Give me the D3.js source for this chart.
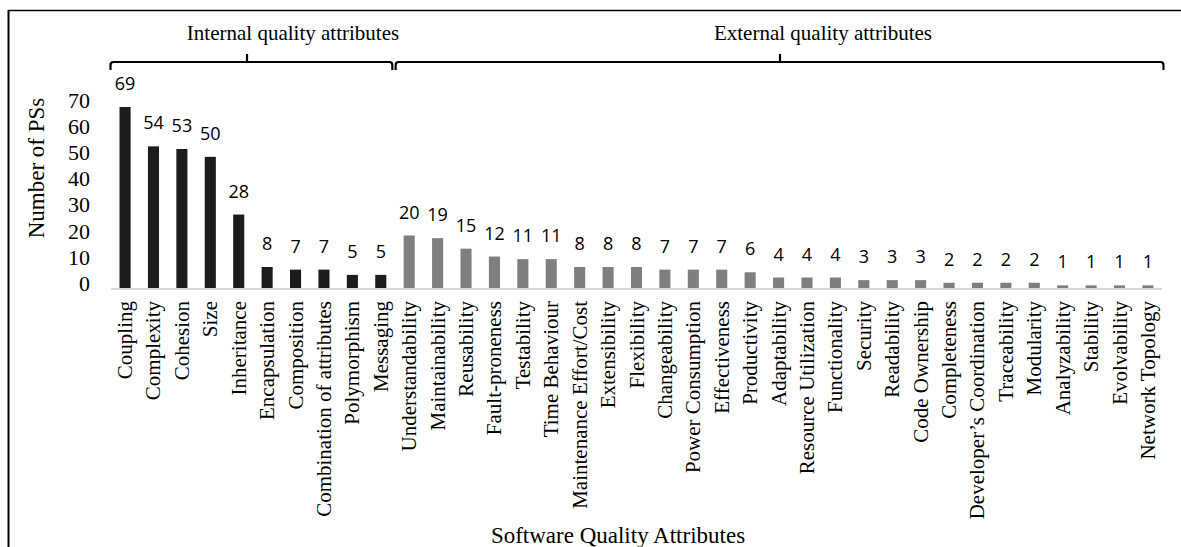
<!DOCTYPE html>
<html>
<head>
<meta charset="utf-8">
<script src="https://cdn.jsdelivr.net/npm/d3@7"></script>
<style>
  body { margin: 0; background: #fff; }
  svg { display: block; }
  .serif { font-family: "Liberation Serif", "Times New Roman", serif; fill: #000; }
  .val { font-family: "Open Sans", "Liberation Sans", sans-serif; font-size: 18px; fill: #000; }
</style>
</head>
<body>
<svg id="chart" width="1181" height="547"></svg>
<script>
const internalCats = ["Coupling", "Complexity", "Cohesion", "Size", "Inheritance", "Encapsulation",
  "Composition", "Combination of attributes", "Polymorphism", "Messaging"];
const internalVals = [69, 54, 53, 50, 28, 8, 7, 7, 5, 5];

const externalCats = ["Understandability", "Maintainability", "Reusability", "Fault-proneness",
  "Testability", "Time Behaviour", "Maintenance Effort/Cost", "Extensibility", "Flexibility",
  "Changeability", "Power Consumption", "Effectiveness", "Productivity", "Adaptability",
  "Resource  Utilization", "Functionality", "Security", "Readability", "Code Ownership",
  "Completeness", "Developer\u2019s Coordination", "Traceability", "Modularity", "Analyzability",
  "Stability", "Evolvability", "Network Topology"];
const externalVals = [20, 19, 15, 12, 11, 11, 8, 8, 8, 7, 7, 7, 6, 4, 4, 4, 3, 3, 3, 2, 2, 2, 2, 1, 1, 1, 1];

const yTicks = [0, 10, 20, 30, 40, 50, 60, 70];

const rows = internalCats.map((c, i) => ({ cat: c, v: internalVals[i], group: "internal" }))
  .concat(externalCats.map((c, i) => ({ cat: c, v: externalVals[i], group: "external" })));

const svg = d3.select("#chart");

// frame (only left and top edges visible)
svg.append("line").attr("x1", 8.5).attr("x2", 8.5).attr("y1", 10).attr("y2", 547)
  .attr("stroke", "#000").attr("stroke-width", 2);
svg.append("line").attr("x1", 8).attr("x2", 1181).attr("y1", 10.5).attr("y2", 10.5)
  .attr("stroke", "#000").attr("stroke-width", 1.5);

const x = d3.scaleBand().domain(rows.map(d => d.cat)).range([111, 1162]).paddingInner(0.61).paddingOuter(0.3);
const y = d3.scaleLinear().domain([0, 70]).range([288, 104.4]);

// baseline
svg.append("line").attr("x1", 111).attr("x2", 1162).attr("y1", y(0) + 1).attr("y2", y(0) + 1)
  .attr("stroke", "#d9d9d9").attr("stroke-width", 2);

// bars
svg.append("g").selectAll("rect").data(rows).join("rect")
  .attr("x", d => x(d.cat))
  .attr("width", x.bandwidth())
  .attr("y", d => y(d.v))
  .attr("height", d => y(0) - y(d.v))
  .attr("fill", d => d.group === "internal" ? "#1c1c1c" : "#7f7f7f");

// value labels
svg.append("g").selectAll("text").data(rows).join("text")
  .attr("class", "val")
  .attr("x", d => x(d.cat) + x.bandwidth() / 2)
  .attr("y", d => y(d.v) - 17)
  .attr("text-anchor", "middle")
  .text(d => d.v);

// y axis tick labels (no axis line)
const yAxis = svg.append("g").attr("transform", "translate(90,0)")
  .call(d3.axisLeft(y).tickValues(yTicks).tickSize(0).tickPadding(0));
yAxis.select(".domain").remove();
yAxis.selectAll("text")
  .attr("class", "serif")
  .attr("font-size", 22)
  .attr("dy", "0.3em")
  .attr("transform", "translate(0,-4)");

// category labels
svg.append("g").selectAll("text").data(rows).join("text")
  .attr("class", "serif")
  .attr("font-size", 21)
  .attr("text-anchor", "end")
  .attr("transform", d => `translate(${x(d.cat) + x.bandwidth() / 2 + 7},301) rotate(-90)`)
  .text(d => d.cat);

// axis titles
svg.append("text").attr("class", "serif").attr("font-size", 23)
  .attr("text-anchor", "middle")
  .attr("transform", "translate(44,168) rotate(-90)")
  .text("Number of PSs");

svg.append("text").attr("class", "serif").attr("font-size", 23)
  .attr("x", 618).attr("y", 543).attr("text-anchor", "middle")
  .text("Software Quality Attributes");

// group braces
function brace(x0, x1, xm, label, lx) {
  const top = 62, hook = 8, r = 3;
  const p = d3.path();
  p.moveTo(x0, top + hook);
  p.lineTo(x0, top + r);
  p.quadraticCurveTo(x0, top, x0 + r, top);
  p.lineTo(x1 - r, top);
  p.quadraticCurveTo(x1, top, x1, top + r);
  p.lineTo(x1, top + hook);
  p.moveTo(xm, top);
  p.lineTo(xm, top - 8);
  svg.append("path").attr("d", p.toString()).attr("fill", "none")
    .attr("stroke", "#000").attr("stroke-width", 2.2);
  svg.append("text").attr("class", "serif").attr("font-size", 21)
    .attr("x", lx).attr("y", 40).attr("text-anchor", "middle").text(label);
}

const intStart = x(internalCats[0]) - 9;
const intEnd = x(internalCats[internalCats.length - 1]) + x.bandwidth() + 6;
const extStart = x(externalCats[0]) - 8;
const extEnd = x(externalCats[externalCats.length - 1]) + x.bandwidth() + 10;
brace(intStart, intEnd, 247, "Internal quality attributes", 293);
brace(extStart, extEnd, 780, "External quality attributes", 823);
</script>
</body>
</html>
